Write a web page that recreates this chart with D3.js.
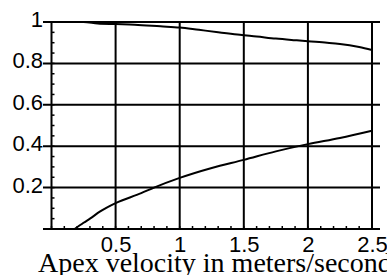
<!DOCTYPE html>
<html><head><meta charset="utf-8">
<script src="https://cdn.jsdelivr.net/npm/d3@7"></script>
<style>body{margin:0;background:#fff;overflow:hidden}svg{display:block}</style>
</head><body>
<svg id="c" width="387" height="275"></svg>
<script>
const xTicks = [0.5, 1, 1.5, 2, 2.5];
const yTicks = [0.2, 0.4, 0.6, 0.8, 1];
const xUpper = [0, 0.25, 0.36, 0.5, 0.65, 0.85, 1.0, 1.15, 1.3, 1.47, 1.6, 1.75, 1.9, 2.0, 2.15, 2.25, 2.4, 2.5];
const yUpper = [1.0, 1.0, 0.993, 0.99, 0.987, 0.979, 0.973, 0.962, 0.951, 0.938, 0.93, 0.92, 0.912, 0.907, 0.9, 0.894, 0.879, 0.865];
const xLower = [0.18, 0.25, 0.3, 0.38, 0.5, 0.7, 0.8, 1.0, 1.25, 1.5, 1.75, 2.0, 2.25, 2.5];
const yLower = [0, 0.03, 0.05, 0.085, 0.125, 0.173, 0.2, 0.247, 0.295, 0.334, 0.375, 0.41, 0.44, 0.475];
const xTitle = "Apex velocity in meters/second";

const svg = d3.select("#c");
const x = d3.scaleLinear().domain([0, 2.5]).range([51.5, 372]);
const y = d3.scaleLinear().domain([0, 1]).range([229, 22]);
const gridLeft = 43, gridRight = 380;

// minor ticks
const yMinor = d3.range(0, 1.0001, 0.05);
svg.append("g").selectAll("line").data(yMinor).join("line")
  .attr("x1", x(0)).attr("x2", x(0) + 3)
  .attr("y1", d => y(d)).attr("y2", d => y(d))
  .attr("stroke", "#000").attr("stroke-width", 1.5);
const xMinor = d3.range(0, 2.5001, 0.1);
svg.append("g").selectAll("line").data(xMinor).join("line")
  .attr("x1", d => x(d)).attr("x2", d => x(d))
  .attr("y1", y(0)).attr("y2", y(0) - 3)
  .attr("stroke", "#000").attr("stroke-width", 1.5);

// horizontal grid lines (including axis at 0)
svg.append("g").selectAll("line").data([0].concat(yTicks)).join("line")
  .attr("x1", gridLeft).attr("x2", gridRight)
  .attr("y1", d => y(d)).attr("y2", d => y(d))
  .attr("stroke", "#000").attr("stroke-width", 2);
// vertical grid lines
svg.append("g").selectAll("line").data([0].concat(xTicks)).join("line")
  .attr("x1", d => x(d)).attr("x2", d => x(d))
  .attr("y1", y(1)).attr("y2", y(0) + 1)
  .attr("stroke", "#000").attr("stroke-width", 2);

// axes labels via d3 axes
const ay = svg.append("g").attr("transform", `translate(${gridLeft},0)`)
  .call(d3.axisLeft(y).tickValues(yTicks).tickSize(0).tickPadding(0).tickFormat(d3.format("")));
ay.select(".domain").remove();
ay.selectAll("text").attr("font-family", "'Liberation Sans', Arial, sans-serif")
  .attr("font-size", 22).attr("fill", "#000").attr("dy", "0.2em");

const ax = svg.append("g").attr("transform", `translate(0,${y(0)})`)
  .call(d3.axisBottom(x).tickValues(xTicks).tickSize(0).tickPadding(7).tickFormat(d3.format("")));
ax.select(".domain").remove();
ax.selectAll("text").attr("font-family", "'Liberation Sans', Arial, sans-serif")
  .attr("font-size", 22).attr("fill", "#000");

// curves
const line = d3.line().x(d => x(d[0])).y(d => y(d[1])).curve(d3.curveMonotoneX);
svg.append("path").datum(d3.zip(xUpper, yUpper)).attr("d", line)
  .attr("fill", "none").attr("stroke", "#000").attr("stroke-width", 2);
svg.append("path").datum(d3.zip(xLower, yLower)).attr("d", line)
  .attr("fill", "none").attr("stroke", "#000").attr("stroke-width", 2);

// title
svg.append("text").attr("x", 38).attr("y", 272)
  .attr("font-family", "'Liberation Serif', 'Times New Roman', serif")
  .attr("font-size", 28).attr("fill", "#000").text(xTitle);
</script>
</body></html>
